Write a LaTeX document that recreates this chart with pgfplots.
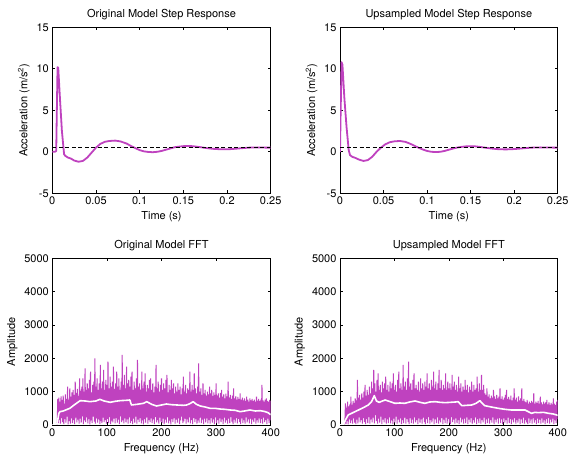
\documentclass[border=0pt]{standalone}
\usepackage{fontspec}
\setmainfont{TeX Gyre Heros}
\usepackage{pgfplots}
\pgfplotsset{compat=1.18}
\definecolor{mag}{RGB}{191,66,191}

\pgfplotsset{
  panel/.style={
    scale only axis, anchor=south west,
    axis line style={line width=0.7pt},
    tick align=inside, major tick length=3pt,
    tick style={black, line width=0.6pt},
    xtick pos=both, ytick pos=both,
    scaled ticks=false,
    /pgf/number format/assume math mode=true,
    /pgf/number format/1000 sep={},
    tick label style={font=\fontsize{11}{13}\selectfont},
    label style={font=\fontsize{11}{13}\selectfont},
    title style={font=\fontsize{11}{13}\selectfont, yshift=-2pt},
  },
  step/.style={panel, width=218.4pt, height=166pt,
    xmin=0, xmax=0.25, ymin=-5, ymax=15,
    xtick={0,0.05,0.1,0.15,0.2,0.25}, ytick={-5,0,5,10,15},
    xticklabel style={/pgf/number format/fixed, /pgf/number format/precision=2},
    xlabel={Time (s)}, ylabel={Acceleration (m/s\textsuperscript{2})}},
  fft/.style={panel, width=218.4pt, height=166.7pt,
    xmin=0, xmax=400, ymin=0, ymax=5000,
    xtick={0,100,200,300,400}, ytick={0,1000,2000,3000,4000,5000},
    xlabel={Frequency (Hz)}, ylabel={Amplitude}},
  ref/.style={black, line width=0.8pt, dash pattern=on 4pt off 2.5pt},
  noise/.style={mag, line width=1pt, line join=bevel},
}

\begin{document}
\begin{tikzpicture}

% ---- original step response
\begin{axis}[step, at={(52.3pt,264.7pt)}, title={Original Model Step Response}]
\addplot[mag, line width=1.8pt, line join=round] coordinates {
(0,0)(0.003,0)(0.0045,0.1)(0.0052,5)(0.006,10.2)(0.0068,10.1)(0.009,6)(0.011,2.5)
(0.0135,-0.3)(0.015,-0.5)(0.018,-0.7)(0.021,-0.8)(0.025,-1.05)(0.03,-1.2)(0.035,-1.1)
(0.04,-0.7)(0.045,-0.1)(0.05,0.5)(0.055,0.95)(0.06,1.2)(0.065,1.3)(0.072,1.35)
(0.078,1.25)(0.085,1.0)(0.09,0.7)(0.095,0.45)(0.1,0.2)(0.105,0.05)(0.11,-0.02)
(0.115,-0.05)(0.12,0)(0.125,0.1)(0.13,0.25)(0.135,0.4)(0.14,0.55)(0.145,0.62)
(0.15,0.68)(0.155,0.7)(0.16,0.68)(0.165,0.62)(0.17,0.55)(0.175,0.47)(0.18,0.4)
(0.185,0.35)(0.19,0.32)(0.195,0.3)(0.2,0.3)(0.205,0.33)(0.21,0.37)(0.215,0.42)
(0.22,0.46)(0.225,0.5)(0.23,0.52)(0.235,0.53)(0.24,0.52)(0.245,0.5)(0.25,0.5)};
\addplot[ref] coordinates {(0,0.5)(0.25,0.5)};
\end{axis}

% ---- upsampled step response
\begin{axis}[step, at={(340pt,264.7pt)}, width=217.7pt, title={Upsampled Model Step Response}]
\addplot[mag, line width=1.8pt, line join=round] coordinates {
(0,0)(0.0008,5)(0.0018,10.8)(0.0028,10.5)(0.005,6.5)(0.0075,3)(0.01,0.2)(0.0115,-0.4)
(0.014,-0.6)(0.018,-0.75)(0.022,-0.95)(0.027,-1.1)(0.032,-1.0)(0.037,-0.6)(0.042,0)
(0.047,0.5)(0.052,0.9)(0.057,1.15)(0.063,1.27)(0.069,1.3)(0.075,1.2)(0.08,1.0)
(0.085,0.75)(0.09,0.5)(0.095,0.28)(0.1,0.1)(0.105,0)(0.11,-0.03)(0.115,0)(0.12,0.1)
(0.125,0.25)(0.13,0.4)(0.135,0.52)(0.14,0.6)(0.145,0.66)(0.15,0.68)(0.155,0.66)
(0.16,0.6)(0.165,0.52)(0.17,0.45)(0.175,0.38)(0.18,0.33)(0.185,0.3)(0.19,0.29)
(0.195,0.3)(0.2,0.33)(0.205,0.37)(0.21,0.42)(0.215,0.46)(0.22,0.5)(0.225,0.52)
(0.23,0.53)(0.235,0.52)(0.24,0.51)(0.25,0.5)};
\addplot[ref] coordinates {(0,0.5)(0.25,0.5)};
\end{axis}

% ---- original FFT
\begin{axis}[fft, at={(52.3pt,33pt)}, title={Original Model FFT}]
\addplot[noise] coordinates {
(0,0)(2,5)(4,10)(6,15)(8,20)(9,40)
(10,780)(11,60)(12,820)(13,150)(14,700)(15,40)(16,860)(17,210)(18,750)(19,90)
(20,880)(21,30)(22,640)(23,180)(24,920)(25,70)(26,780)(27,250)(28,1150)(29,20)
(30,760)(31,120)(32,1100)(33,40)(34,850)(35,200)(36,980)(37,60)(38,1050)(39,150)
(40,900)(41,30)(42,1300)(43,220)(44,960)(45,80)(46,1080)(47,160)(48,870)(49,40)
(50,1400)(51,190)(52,1020)(53,70)(54,1150)(55,260)(56,1400)(57,30)(58,1000)(59,140)
(60,1700)(61,90)(62,1050)(63,230)(64,1250)(65,50)(66,1100)(67,180)(68,1350)(69,20)
(70,1600)(71,140)(72,980)(73,60)(74,1200)(75,250)(76,1300)(77,100)(78,2000)(79,40)
(80,1150)(81,200)(82,1400)(83,70)(84,1050)(85,170)(86,1250)(87,30)(88,1800)(89,120)
(90,1100)(91,60)(92,1300)(93,220)(94,1650)(95,90)(96,1050)(97,150)(98,1350)(99,40)
(100,1200)(101,180)(102,1900)(103,60)(104,1100)(105,240)(106,1450)(107,30)(108,1150)(109,130)
(110,1300)(111,80)(112,1750)(113,190)(114,1080)(115,50)(116,1250)(117,210)(118,1600)(119,70)
(120,1150)(121,160)(122,1400)(123,30)(124,1050)(125,260)(126,1300)(127,90)(128,2100)(129,140)
(130,1200)(131,50)(132,1500)(133,200)(134,1100)(135,80)(136,1750)(137,170)(138,1250)(139,40)
(140,1350)(141,230)(142,1150)(143,60)(144,1450)(145,120)(146,1600)(147,30)(148,1050)(149,190)
(150,1300)(151,70)(152,1100)(153,250)(154,1400)(155,40)(156,1950)(157,160)(158,1150)(159,90)
(160,1250)(161,210)(162,1050)(163,50)(164,1600)(165,140)(166,1100)(167,20)(168,1300)(169,180)
(170,1550)(171,70)(172,1000)(173,230)(174,1200)(175,40)(176,1100)(177,150)(178,1350)(179,90)
(180,1400)(181,200)(182,1050)(183,60)(184,1250)(185,170)(186,980)(187,30)(188,1150)(189,240)
(190,1800)(191,80)(192,1100)(193,150)(194,1300)(195,40)(196,1000)(197,220)(198,1200)(199,100)
(200,1400)(201,60)(202,1050)(203,190)(204,1250)(205,30)(206,1100)(207,160)(208,1350)(209,70)
(210,1500)(211,240)(212,980)(213,50)(214,1200)(215,130)(216,1050)(217,20)(218,1350)(219,180)
(220,1100)(221,90)(222,1250)(223,210)(224,950)(225,40)(226,1150)(227,160)(228,1000)(229,70)
(230,1250)(231,200)(232,1050)(233,30)(234,1150)(235,140)(236,920)(237,250)(238,1100)(239,60)
(240,1450)(241,110)(242,1000)(243,190)(244,1200)(245,40)(246,950)(247,170)(248,1100)(249,80)
(250,1050)(251,230)(252,1600)(253,50)(254,1000)(255,150)(256,1200)(257,30)(258,1050)(259,210)
(260,1550)(261,90)(262,1100)(263,180)(264,950)(265,40)(266,1150)(267,140)(268,1850)(269,70)
(270,1000)(271,220)(272,1100)(273,60)(274,900)(275,160)(276,1250)(277,30)(278,950)(279,190)
(280,1050)(281,80)(282,880)(283,200)(284,1000)(285,50)(286,920)(287,150)(288,1150)(289,40)
(290,950)(291,210)(292,1050)(293,70)(294,870)(295,170)(296,980)(297,30)(298,900)(299,230)
(300,1250)(301,60)(302,880)(303,150)(304,950)(305,40)(306,820)(307,200)(308,960)(309,90)
(310,1050)(311,170)(312,850)(313,30)(314,920)(315,220)(316,800)(317,70)(318,940)(319,140)
(320,860)(321,40)(322,1300)(323,190)(324,820)(325,60)(326,900)(327,240)(328,780)(329,100)
(330,880)(331,30)(332,1100)(333,160)(334,800)(335,70)(336,860)(337,210)(338,760)(339,50)
(340,840)(341,180)(342,780)(343,90)(344,950)(345,30)(346,760)(347,200)(348,820)(349,60)
(350,740)(351,150)(352,800)(353,40)(354,720)(355,230)(356,850)(357,80)(358,760)(359,170)
(360,700)(361,50)(362,800)(363,190)(364,740)(365,30)(366,780)(367,160)(368,720)(369,90)
(370,760)(371,210)(372,700)(373,40)(374,850)(375,150)(376,730)(377,70)(378,780)(379,200)
(380,720)(381,60)(382,760)(383,180)(384,1200)(385,40)(386,740)(387,220)(388,700)(389,90)
(390,760)(391,150)(392,800)(393,30)(394,720)(395,190)(396,700)(397,60)(398,750)(399,140)(400,720)};
\addplot[white, line width=1.6pt, line join=round] coordinates {
(0,0)(5,0)(9,50)(12,350)(14,400)(20,420)(32,500)(40,600)(51,730)(60,720)(69,700)
(80,720)(87,770)(95,720)(106,680)(115,710)(124,730)(135,740)(142,750)(145,600)
(155,620)(167,650)(173,700)(182,620)(191,570)(200,600)(209,630)(218,610)(228,600)
(240,590)(246,600)(252,640)(258,700)(264,620)(271,570)(280,540)(289,500)(298,500)
(307,480)(316,470)(326,450)(335,440)(344,400)(352,420)(362,450)(372,420)(381,430)
(390,400)(395,370)(400,310)};
\end{axis}

% ---- upsampled FFT
\begin{axis}[fft, at={(340pt,33pt)}, width=217.7pt, title={Upsampled Model FFT}]
\addplot[noise] coordinates {
(0,0)(3,0)(6,0)(8,40)(9,120)
(10,650)(11,30)(12,520)(13,120)(14,700)(15,20)(16,560)(17,180)(18,620)(19,60)
(20,850)(21,140)(22,600)(23,40)(24,720)(25,200)(26,660)(27,70)(28,800)(29,30)
(30,740)(31,160)(32,1350)(33,50)(34,820)(35,230)(36,900)(37,80)(38,760)(39,150)
(40,950)(41,40)(42,820)(43,210)(44,1000)(45,90)(46,1200)(47,30)(48,880)(49,180)
(50,1050)(51,60)(52,900)(53,240)(54,1150)(55,40)(56,950)(57,170)(58,1300)(59,80)
(60,1100)(61,220)(62,1650)(63,50)(64,1250)(65,300)(66,1000)(67,120)(68,1350)(69,40)
(70,1550)(71,190)(72,1050)(73,70)(74,1200)(75,250)(76,980)(77,30)(78,1300)(79,160)
(80,1100)(81,80)(82,1250)(83,210)(84,1450)(85,40)(86,1050)(87,170)(88,1200)(89,60)
(90,1000)(91,230)(92,1300)(93,50)(94,1100)(95,140)(96,1250)(97,30)(98,1550)(99,190)
(100,1050)(101,70)(102,1200)(103,250)(104,1000)(105,40)(106,1350)(107,160)(108,1600)(109,80)
(110,1100)(111,200)(112,1250)(113,30)(114,1050)(115,150)(116,1800)(117,60)(118,1150)(119,220)
(120,1300)(121,40)(122,1050)(123,180)(124,1400)(125,90)(126,1900)(127,30)(128,1150)(129,210)
(130,1250)(131,60)(132,1050)(133,160)(134,1350)(135,40)(136,1550)(137,230)(138,1100)(139,80)
(140,1200)(141,150)(142,1050)(143,30)(144,1300)(145,200)(146,1000)(147,70)(148,1400)(149,170)
(150,1100)(151,40)(152,1250)(153,220)(154,1050)(155,90)(156,1300)(157,30)(158,1150)(159,180)
(160,1550)(161,60)(162,1100)(163,240)(164,1250)(165,40)(166,1050)(167,150)(168,1350)(169,80)
(170,1150)(171,200)(172,1600)(173,30)(174,1100)(175,170)(176,1300)(177,60)(178,1050)(179,230)
(180,1250)(181,40)(182,1650)(183,140)(184,1100)(185,80)(186,1350)(187,210)(188,1050)(189,30)
(190,1200)(191,160)(192,1100)(193,60)(194,1550)(195,220)(196,1050)(197,40)(198,1300)(199,180)
(200,1100)(201,70)(202,1250)(203,30)(204,1050)(205,240)(206,1500)(207,90)(208,1150)(209,160)
(210,1300)(211,40)(212,1050)(213,200)(214,1200)(215,60)(216,1000)(217,150)(218,1450)(219,30)
(220,1100)(221,220)(222,1250)(223,80)(224,1000)(225,170)(226,1150)(227,40)(228,1050)(229,190)
(230,1350)(231,60)(232,1050)(233,230)(234,1200)(235,30)(236,980)(237,160)(238,1150)(239,80)
(240,1050)(241,210)(242,1300)(243,40)(244,1000)(245,150)(246,1200)(247,70)(248,1050)(249,230)
(250,1100)(251,30)(252,1450)(253,180)(254,1000)(255,60)(256,1250)(257,200)(258,1050)(259,40)
(260,1500)(261,150)(262,1050)(263,80)(264,1200)(265,220)(266,950)(267,30)(268,900)(269,170)
(270,1100)(271,60)(272,850)(273,200)(274,920)(275,40)(276,800)(277,150)(278,880)(279,70)
(280,820)(281,230)(282,1050)(283,30)(284,860)(285,160)(286,780)(287,80)(288,900)(289,190)
(290,800)(291,40)(292,850)(293,210)(294,1100)(295,60)(296,780)(297,170)(298,860)(299,30)
(300,760)(301,200)(302,820)(303,70)(304,900)(305,150)(306,1050)(307,40)(308,780)(309,220)
(310,840)(311,60)(312,760)(313,180)(314,880)(315,30)(316,740)(317,160)(318,820)(319,80)
(320,1100)(321,210)(322,760)(323,40)(324,820)(325,150)(326,700)(327,70)(328,860)(329,190)
(330,740)(331,30)(332,800)(333,170)(334,1100)(335,60)(336,720)(337,220)(338,780)(339,40)
(340,700)(341,150)(342,680)(343,80)(344,750)(345,30)(346,640)(347,200)(348,700)(349,60)
(350,660)(351,170)(352,720)(353,40)(354,680)(355,210)(356,950)(357,70)(358,640)(359,150)
(360,700)(361,30)(362,660)(363,190)(364,720)(365,60)(366,640)(367,160)(368,850)(369,40)
(370,680)(371,200)(372,620)(373,70)(374,700)(375,150)(376,640)(377,30)(378,680)(379,180)
(380,750)(381,60)(382,620)(383,210)(384,680)(385,40)(386,600)(387,160)(388,660)(389,80)
(390,620)(391,190)(392,800)(393,30)(394,640)(395,150)(396,600)(397,60)(398,700)(399,170)(400,750)};
\addplot[white, line width=1.6pt, line join=round] coordinates {
(0,0)(6,0)(10,150)(15,300)(25,380)(34,450)(44,530)(52,600)(58,700)(63,880)(67,720)
(72,680)(78,720)(83,750)(92,700)(101,650)(110,660)(119,650)(128,690)(138,720)
(147,680)(156,650)(165,690)(175,700)(184,680)(193,670)(203,680)(212,690)(217,700)
(224,580)(233,590)(242,600)(250,650)(257,730)(262,640)(266,580)(278,540)(291,500)
(303,470)(315,450)(328,450)(340,450)(346,400)(352,350)(358,380)(364,370)(374,380)
(383,350)(392,330)(398,300)(400,290)};
\end{axis}

\pgfresetboundingbox
\path (0,0) rectangle (568pt,458pt);
\end{tikzpicture}
\end{document}
